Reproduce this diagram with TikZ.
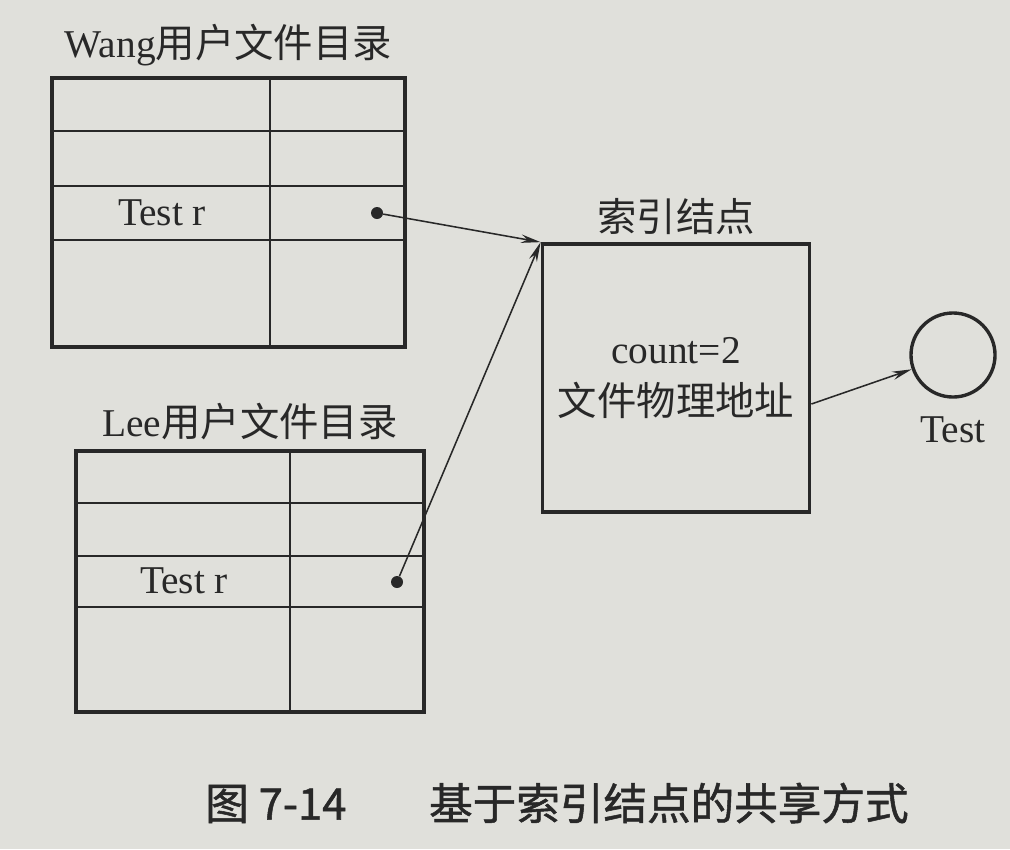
\documentclass[tikz,border=0pt]{standalone}
\usepackage{fontspec}
\setmainfont{Liberation Serif}
\newfontfamily\cjk{Noto Sans CJK SC}
\newfontfamily\cjkcap[FakeBold=1.2]{Noto Sans CJK SC}
\usetikzlibrary{arrows.meta,positioning}

\definecolor{paper}{RGB}{224,224,219}
\definecolor{ink}{RGB}{40,40,40}

\tikzset{
    dirbox/.style={draw=ink, line width=2.6pt, inner sep=0pt, anchor=center},
    rowline/.style={draw=ink, line width=1.6pt},
    label/.style={text=ink, inner sep=1pt, font=\fontsize{28}{33}\selectfont},
    ptr/.style={circle, fill=ink, inner sep=0pt, minimum size=0.3cm},
    link/.style={draw=ink, line width=1.1pt, -{Stealth[length=14pt,width=6pt]}}
}

\begin{document}
\begin{tikzpicture}[x=0.025cm, y=-0.025cm]
    % Page
    \fill[paper] (0,0) rectangle (1010,849);

    % Wang directory
    \node[dirbox, minimum width=8.825cm, minimum height=6.725cm] (wangdir) at (228.5,212.5) {};
    \node[label, above=0.2cm of wangdir] (wangtitle) {Wang{\cjk 用户文件目录}};
    \draw[rowline] (270,78) -- (270,347);
    \foreach \y in {131,186,240}
        \draw[rowline] (52,\y) -- (405,\y);
    \node[label] (wangname) at (162,213) {Test r};
    \node[ptr] (wangptr) at (377,213) {};

    % Lee directory
    \node[dirbox, minimum width=8.7cm, minimum height=6.525cm] (leedir) at (250,581.5) {};
    \node[label, above=0.2cm of leedir] (leetitle) {Lee{\cjk 用户文件目录}};
    \draw[rowline] (290,451) -- (290,712);
    \foreach \y in {503,556,607}
        \draw[rowline] (76,\y) -- (424,\y);
    \node[label] (leename) at (184,581) {Test r};
    \node[ptr] (leeptr) at (397,582) {};

    % Index node
    \node[dirbox, label, align=center, minimum width=6.675cm, minimum height=6.7cm,
          font=\fontsize{28}{37}\selectfont] (inode) at (676,378)
          {count=2\\{\cjk 文件物理地址}};
    \node[label, above=0.15cm of inode] (inodetitle) {\cjk 索引结点};

    % File
    \node[circle, draw=ink, line width=2.4pt, minimum size=2.1cm] (testfile) at (953,355) {};
    \node[label, below=0.4cm of testfile] (testname) {Test};

    % Links
    \draw[link] (wangptr) -- (inode.north west);
    \draw[link] (leeptr) -- (inode.north west);
    \draw[link] ([yshift=-0.65cm]inode.east) -- (testfile);

    % Caption
    \node[text=ink, font=\cjkcap\fontsize{31}{38}\selectfont] (caption) at (557,803)
        {图 7-14\hspace{1.9em}基于索引结点的共享方式};
\end{tikzpicture}
\end{document}
